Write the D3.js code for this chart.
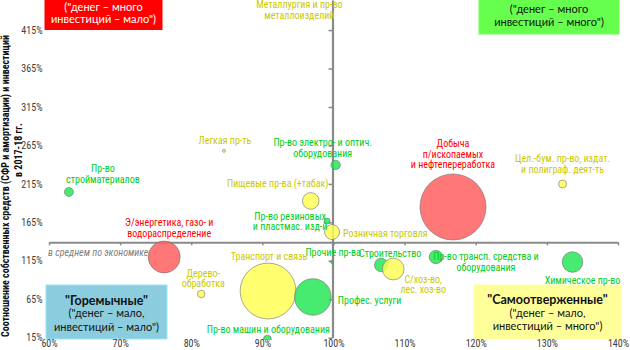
<!DOCTYPE html>
<html><head><meta charset="utf-8">
<script src="https://cdn.jsdelivr.net/npm/d3@7/dist/d3.min.js"></script>
<style>body{margin:0;background:#fff}svg{display:block}</style>
</head><body><svg id="c" width="630" height="350"></svg>
<script>
// ---------- DATA ----------
const industries = [
  "Пр-во\nстройматериалов",
  "Легкая пр-ть",
  "Пр-во электро- и оптич.\nоборудования",
  "Пищевые пр-ва (+табак)",
  "Пр-во резиновых\nи пластмас. изд-й",
  "Розничная торговля",
  "Добыча\nп/ископаемых\nи нефтепереработка",
  "Цел.-бум. пр-во, издат.\nи полиграф. деят-ть",
  "Э/энергетика, газо- и\nводораспределение",
  "Дерево-\nобработка",
  "Транспорт и связь",
  "Профес. услуги",
  "Пр-во машин и оборудования",
  "Прочие пр-ва",
  "Строительство",
  "С/хоз-во,\nлес. хоз-во",
  "Пр-во трансп. средства и\nоборудования",
  "Химическое пр-во",
  "Металлургия и пр-во\nметаллоизделий"
];
const xValues = [62.8, 84.6, 100.3, 96.8, 99.1, 99.8, 116.8, 132.2, 76.2, 81.4, 90.8, 97.1, 90.7, 99.8, 106.7, 108.4, 114.4, 133.6, 95.2];
const yValues = [204.5, 258, 239.6, 192.8, 166.7, 152.4, 185, 214.9, 120, 71.8, 75.7, 68, 13, 113.4, 109.5, 104.3, 120, 113.4, 520];
const bubbleSize = [20, 2, 22, 69, 9, 56, 1090, 16, 256, 14, 780, 335, 16, 2, 45, 118, 45, 106, 60];
const status = ["pos","neu","pos","neu","pos","neu","neg","neu","neg","neu","neu","pos","pos","pos","pos","neu","pos","pos","neu"];
const xTicks = [60, 70, 80, 90, 100, 110, 120, 130, 140];
const yTicks = [15, 65, 115, 165, 215, 265, 315, 365, 415];
const avgX = 100;   // vertical axis crossing
const avgY = 139;   // horizontal axis crossing ("в среднем по экономике")
const yTitle = ["Соотношение собственных средств (СФР и амортизации) и инвестиций", "в 2017-18 гг."];

// ---------- STYLE / LAYOUT ----------
const fill = {neg: "rgba(255,95,95,0.85)", pos: "rgba(30,230,80,0.82)", neu: "rgba(255,255,80,0.82)"};
const textCol = {neg: "#ff0000", pos: "#00cc1a", neu: "#c9c900"};
// label offsets relative to bubble centre: [dx, dy(first line centre), anchor]
const labelLayout = [
  [34,-23,"middle"],[1,-10,"middle"],[-13,-22,"middle"],[-33,-17,"middle"],[-37,-5,"middle"],
  [11,1,"start"],[0,-63,"middle"],[0,-25,"middle"],[5,-34,"middle"],[2,-21,"middle"],
  [1,-35,"middle"],[25,4,"start"],[1,-10,"middle"],[1,-10,"middle"],[9,-12,"middle"],
  [30,10,"middle"],[50,0,"middle"],[10,18,"middle"],[0,0,"middle"]
];
const narrow = "'Liberation Sans Narrow','Arial Narrow','Roboto Condensed',sans-serif";
const boxFont = "Lato,'Open Sans',sans-serif";

const svg = d3.select("#c");
const x = d3.scaleLinear().domain([60, 140]).range([49, 618]);
const y = d3.scaleLinear().domain([15, 454.1]).range([337.7, 0]);
const r = d3.scaleSqrt().domain([0, 1090]).range([0, 33]);

// quadrant boxes
const boxes = [
  {x0: 45, x1: 162, y0: -20, y1: 29.5, fill: "#ff0000", col: "#fff", lines: [["(\"денег – много", 7, false], ["инвестиций – мало\")", 19.5, false]]},
  {x0: 479, x1: 619, y0: -20, y1: 34, fill: "#66ff4d", col: "#111", lines: [["(\"денег – много", 9.5, false], ["инвестиций – много\")", 22.5, false]]},
  {x0: 46, x1: 167, y0: 285, y1: 339, fill: "#8bcddf", col: "#111", lines: [["\"Горемычные\"", 300.5, true], ["(\"денег – мало,", 313.5, false], ["инвестиций – мало\")", 327, false]]},
  {x0: 474, x1: 621, y0: 285, y1: 339, fill: "#ffff99", col: "#111", lines: [["\"Самоотверженные\"", 300, true], ["(\"денег – мало,", 313, false], ["инвестиций – много\")", 326.5, false]]}
];
boxes.forEach(b => {
  svg.append("rect").attr("x", b.x0).attr("y", b.y0).attr("width", b.x1 - b.x0).attr("height", b.y1 - b.y0)
    .attr("fill", b.fill).attr("stroke", d3.color(b.fill).brighter(0.3)).attr("stroke-width", 1);
  b.lines.forEach(([t, ty, bold]) => {
    svg.append("text").attr("x", (b.x0 + b.x1) / 2).attr("y", ty).attr("dy", "0.35em")
      .attr("text-anchor", "middle").attr("fill", b.col)
      .style("font-family", boxFont).style("font-size", bold ? "12.5px" : "11px")
      .style("font-weight", bold ? "bold" : "normal").text(t);
  });
});

// y tick labels (left)
const yLab = svg.append("g").attr("transform", "translate(46,0)")
  .call(d3.axisLeft(y).tickValues(yTicks).tickSize(0).tickPadding(3.5).tickFormat(d => d + "%"));
yLab.select(".domain").remove();
yLab.selectAll("text").style("font-family", narrow).style("font-size", "10px").attr("fill", "#404040");

// x tick labels (bottom)
const xLab = svg.append("g").attr("transform", "translate(0,339)")
  .call(d3.axisBottom(x).tickValues(xTicks).tickSize(0).tickPadding(1).tickFormat(d => d + "%"));
xLab.select(".domain").remove();
xLab.selectAll("text").style("font-family", narrow).style("font-size", "10px").attr("fill", "#404040");

// crossing axes
const axCol = "#8a8a8a";
const hAx = svg.append("g").attr("transform", `translate(0,${y(avgY)})`)
  .call(d3.axisBottom(x).tickValues(xTicks).tickSize(3).tickSizeOuter(0).tickFormat(""));
hAx.select(".domain").attr("stroke", axCol).attr("stroke-width", 2);
hAx.selectAll(".tick line").attr("stroke", axCol).attr("stroke-width", 1.5);

const vAx = svg.append("g").attr("transform", `translate(${x(avgX) - 1},0)`)
  .call(d3.axisLeft(y).tickValues(yTicks).tickSize(4).tickSizeOuter(0).tickFormat(""));
vAx.select(".domain").attr("stroke", axCol).attr("stroke-width", 2.2);
vAx.selectAll(".tick line").attr("stroke", axCol).attr("stroke-width", 1.5);

svg.append("text").attr("x", 48).attr("y", y(avgY) + 10).attr("dy", "0.35em")
  .style("font-family", narrow).style("font-size", "10px").style("font-style", "italic")
  .attr("fill", "#7f7f7f").text("в среднем по экономике");

// y axis title
svg.append("text").attr("transform", "translate(9,337) rotate(-90)").attr("text-anchor", "start")
  .style("font-family", narrow).style("font-size", "10px").style("font-weight", "bold").attr("fill", "#111").text(yTitle[0]);
svg.append("text").attr("transform", "translate(22,150) rotate(-90)").attr("text-anchor", "middle")
  .style("font-family", narrow).style("font-size", "10px").style("font-weight", "bold").attr("fill", "#111").text(yTitle[1]);

// bubbles
svg.append("clipPath").attr("id", "plot").append("rect").attr("x", 46).attr("y", 0).attr("width", 576).attr("height", 340);
const data = industries.map((name, i) => ({name, x: xValues[i], y: yValues[i], s: bubbleSize[i], st: status[i], i}));
svg.append("g").attr("clip-path", "url(#plot)").selectAll("circle").data(data).join("circle")
  .attr("cx", d => x(d.x)).attr("cy", d => y(d.y)).attr("r", d => Math.max(1.5, r(d.s)))
  .attr("fill", d => fill[d.st]).attr("stroke", "rgba(110,110,110,0.75)").attr("stroke-width", 0.8);

// labels
data.forEach(d => {
  const [dx, dy, anchor] = labelLayout[d.i];
  let cx = x(d.x) + dx, cy = y(d.y) + dy;
  if (d.i === 18) { cx = x(d.x); cy = 4.5; }
  const t = svg.append("text").attr("text-anchor", anchor).attr("fill", textCol[d.st])
    .style("font-family", narrow).style("font-size", "10px");
  d.name.split("\n").forEach((ln, k) => {
    t.append("tspan").attr("x", cx).attr("y", cy + k * 10.5).attr("dy", "0.35em").text(ln);
  });
});
</script></body></html>
